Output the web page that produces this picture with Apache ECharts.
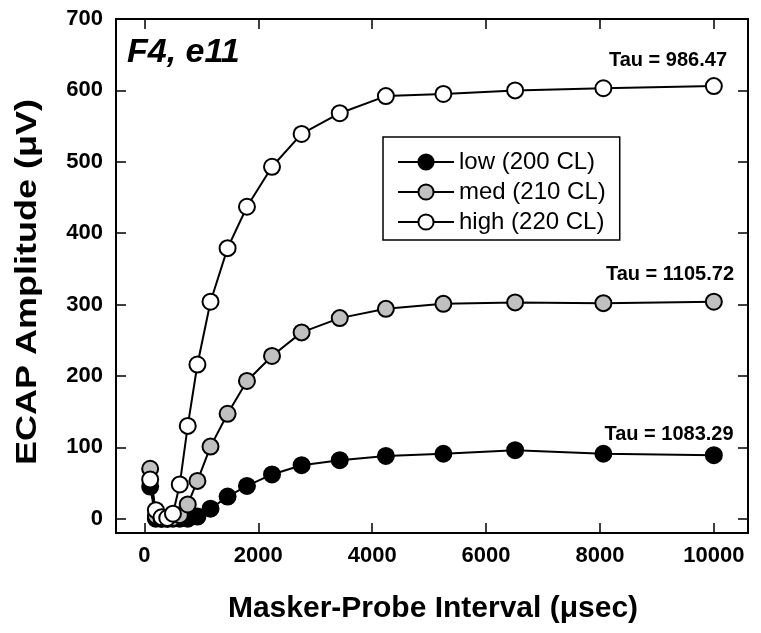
<!DOCTYPE html>
<html>
<head>
<meta charset="utf-8">
<script src="https://cdn.jsdelivr.net/npm/echarts@6/dist/echarts.min.js"></script>
<style>
  html, body { margin: 0; padding: 0; background: #fff; }
  #chart { width: 761px; height: 633px; }
</style>
</head>
<body>
<div id="chart"></div>
<script>
// masker-probe intervals (usec)
const intervals = [100, 200, 300, 400, 500, 620, 760, 930, 1160, 1460, 1800, 2240, 2760, 3430, 4240, 5250, 6510, 8060, 10000];

// ECAP amplitudes (uV) per level
const lowVals  = [45, 0, 0, 0, 0, 0, 0, 3, 14, 31, 46, 62, 75, 82, 88, 91, 96, 91, 89];
const medVals  = [70, 4, 0, 0, 1, 5, 20, 53, 101, 147, 193, 228, 261, 281, 294, 301, 303, 302, 304];
const highVals = [55, 12, 2, 1, 7, 48, 130, 216, 304, 379, 437, 493, 539, 568, 592, 595, 600, 603, 606];

const seriesNames = ['low (200 CL)', 'med (210 CL)', 'high (220 CL)'];
const fills = ['#000000', '#c0c0c0', '#ffffff'];
const tauLabels = ['Tau = 1083.29', 'Tau = 1105.72', 'Tau = 986.47'];

const xTicks = [0, 2000, 4000, 6000, 8000, 10000];
const yTicks = [0, 100, 200, 300, 400, 500, 600, 700];

const FONT = '"Liberation Sans", Arial, sans-serif';

function pairs(vals) {
    return intervals.map((x, i) => [x, vals[i]]);
}

const chart = echarts.init(document.getElementById('chart'));

// 边框上的坐标轴（上/右只画刻度）
const tickStyle = (vals) => ({ show: true, inside: true, length: 10, customValues: vals, lineStyle: { color: '#000', width: 1.5 } });
const frameAxis = (extra) => Object.assign({
    type: 'value',
    axisLine: { show: true, onZero: false, lineStyle: { color: '#000', width: 2 } },
    splitLine: { show: false },
}, extra);
const tickLabel = (vals, margin) => ({
    customValues: vals, margin: margin, color: '#000',
    fontFamily: FONT, fontWeight: 'bold', fontSize: 22,
    formatter: (v) => String(v)
});

const option = {
    animation: false,
    backgroundColor: '#fff',
    grid: { left: 116, right: 13, top: 19, bottom: 100 },
    xAxis: [
        frameAxis({ min: -500, max: 10600, position: 'bottom', axisTick: tickStyle(xTicks), axisLabel: tickLabel(xTicks, 12) }),
        frameAxis({ min: -500, max: 10600, position: 'top', axisTick: tickStyle(xTicks), axisLabel: { show: false } })
    ],
    yAxis: [
        frameAxis({ min: -20, max: 700, position: 'left', axisTick: tickStyle(yTicks), axisLabel: tickLabel(yTicks, 13) }),
        frameAxis({ min: -20, max: 700, position: 'right', axisTick: tickStyle(yTicks), axisLabel: { show: false } })
    ],
    legend: {
        data: seriesNames,
        orient: 'vertical',
        left: 383, top: 137,
        padding: [13, 14, 6, 14],
        itemWidth: 56, itemHeight: 19, itemGap: 6,
        borderColor: '#000', borderWidth: 1.5,
        selectedMode: false,
        textStyle: { color: '#000', fontFamily: FONT, fontSize: 24, lineHeight: 22, padding: [0, 0, 0, 0] }
    },
    series: seriesNames.map((name, i) => ({
        name: name,
        type: 'line',
        data: pairs([lowVals, medVals, highVals][i]),
        symbol: 'circle',
        symbolSize: 16,
        lineStyle: { color: '#000', width: 2 },
        itemStyle: { color: fills[i], borderColor: '#000', borderWidth: 2 },
        emphasis: { disabled: true },
        z: 2 + i
    })),
    graphic: [
        {
            type: 'text', left: 127, top: 36,
            style: { text: 'F4, e11', fill: '#000', font: 'italic bold 34px ' + FONT }
        },
        {
            type: 'text', x: 668, y: 60,
            style: { text: tauLabels[2], fill: '#000', font: 'bold 20px ' + FONT, align: 'center', verticalAlign: 'middle' }
        },
        {
            type: 'text', x: 670, y: 274,
            style: { text: tauLabels[1], fill: '#000', font: 'bold 20px ' + FONT, align: 'center', verticalAlign: 'middle' }
        },
        {
            type: 'text', x: 669, y: 434,
            style: { text: tauLabels[0], fill: '#000', font: 'bold 20px ' + FONT, align: 'center', verticalAlign: 'middle' }
        },
        {
            type: 'text', x: 28, y: 282, rotation: Math.PI / 2, scaleX: 1.2,
            style: { text: 'ECAP Amplitude (μV)', fill: '#000', font: 'bold 30px ' + FONT, align: 'center', verticalAlign: 'middle' }
        },
        {
            type: 'text', x: 433, y: 609,
            style: { text: 'Masker-Probe Interval (μsec)', fill: '#000', font: 'bold 30px ' + FONT, align: 'center', verticalAlign: 'middle' }
        }
    ]
};

chart.setOption(option);
</script>
</body>
</html>
